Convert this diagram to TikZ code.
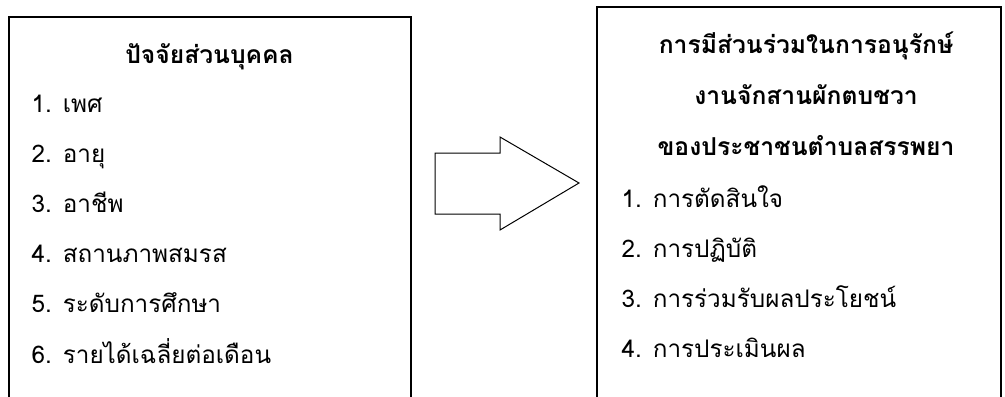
\documentclass[tikz,border=0pt]{standalone}
\usepackage{fontspec}
\setmainfont[Script=Thai]{Loma}
\usetikzlibrary{positioning}

\begin{document}
\begin{tikzpicture}[x=0.75pt,y=-0.75pt,
frame/.style={line width=1.5pt},
head/.style={font=\bfseries\fontsize{18.5}{20}\selectfont,anchor=base},
item/.style={font=\fontsize{18.2}{20}\selectfont,anchor=base west}]
\useasboundingbox (0,0) rectangle (1005,396);
\draw[frame] (8.5,398) coordinate(LB)--(8.5,16.7) coordinate(LT)--(410.7,16.7) coordinate(RT)--(410.7,398) coordinate(RB);
\draw[frame] (596.7,398) coordinate(LB2)--(596.7,6.7) coordinate(LT2)--(1001,6.7) coordinate(RT2)--(1001,398) coordinate(RB2);
\node[head] (T) at (209.5,63) {ปัจจัยส่วนบุคคล};
\foreach \t [count=\i] in {เพศ,อายุ,อาชีพ,สถานภาพสมรส,ระดับการศึกษา,รายได้เฉลี่ยต่อเดือน}
  \node[item] (L\i) at (27,{112+50.2*(\i-1)}) {\i. \t};
\node[head] (H1) at (806,53) {การมีส่วนร่วมในการอนุรักษ์};
\node[head] (H2) at (806,104) {งานจักสานผักตบชวา};
\node[head] (H3) at (806,155) {ของประชาชนตำบลสรรพยา};
\foreach \t [count=\i] in {การตัดสินใจ,การปฏิบัติ,การร่วมรับผลประโยชน์,การประเมินผล}
  \node[item] (R\i) at (617,{207+50.3*(\i-1)}) {\i. \t};
\draw[line width=0.75pt] (435,153) coordinate(A)--(500,153)--(500,137)--(579,183) coordinate(B)--(500,230)--(500,214)--(435,214)--cycle;
\end{tikzpicture}
\end{document}
